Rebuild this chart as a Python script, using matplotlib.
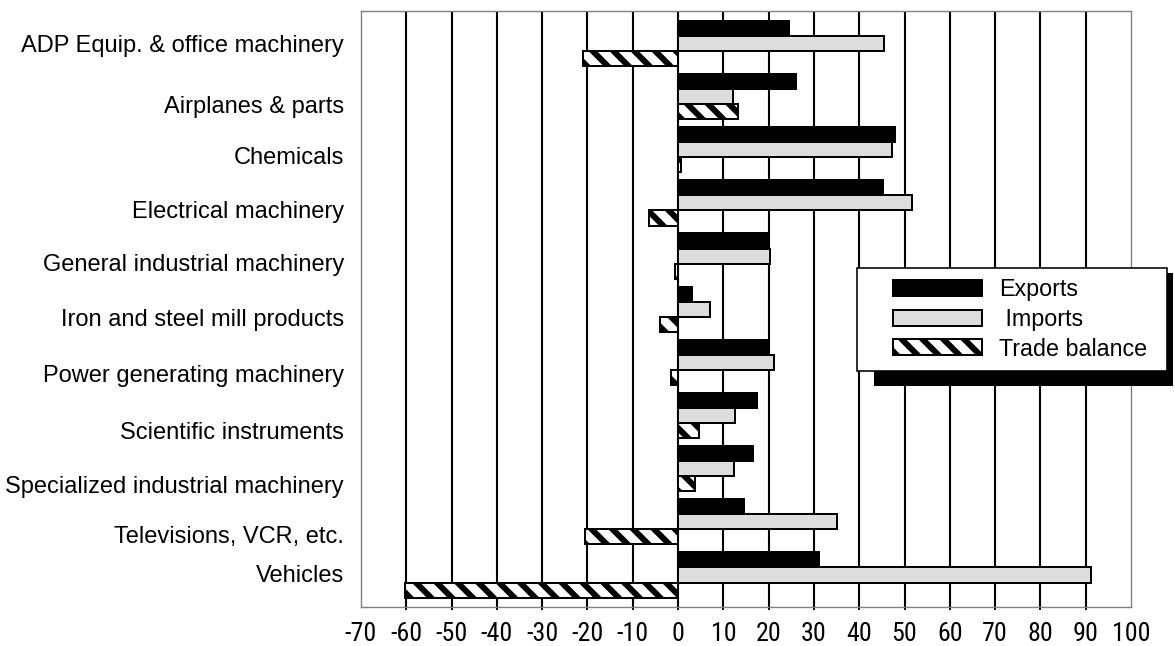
import matplotlib
matplotlib.use("Agg")
import matplotlib.pyplot as plt
import matplotlib.transforms as mtransforms
from matplotlib import font_manager
from matplotlib.patches import Rectangle
from matplotlib.container import BarContainer
from matplotlib.legend_handler import HandlerPatch, update_from_first_child
import numpy as np

# ---------------- data ----------------
categories = [
    "ADP Equip. & office machinery",
    "Airplanes & parts",
    "Chemicals",
    "Electrical machinery",
    "General industrial machinery",
    "Iron and steel mill products",
    "Power generating machinery",
    "Scientific instruments",
    "Specialized industrial machinery",
    "Televisions, VCR, etc.",
    "Vehicles",
]
exports = [24.5, 26.0, 47.9, 45.3, 20.0, 3.1, 19.9, 17.5, 16.6, 14.6, 31.1]
imports = [45.4, 12.2, 47.2, 51.7, 20.2, 7.1, 21.1, 12.5, 12.3, 35.1, 91.1]
balance = [-20.9, 13.2, 0.6, -6.5, -0.6, -3.9, -1.6, 4.6, 3.7, -20.5, -60.2]
series_labels = ["Exports", " Imports", "Trade balance"]
x_ticks = list(range(-70, 101, 10))

# ---------------- style ----------------
W, H = 1175, 646
DPI = 125  # chosen so the hatch tile gives ~21 px stripe spacing


def pt(px):
    """pixels -> points at the working dpi"""
    return px * 72.0 / DPI


def pick_font(names):
    for nm in names:
        try:
            font_manager.findfont(nm, fallback_to_default=False)
            return nm
        except Exception:
            continue
    return "DejaVu Sans"


plt.rcParams["hatch.linewidth"] = pt(6.0)
LABEL_FONT = "Liberation Sans"
TICK_FONT = pick_font(["Liberation Sans Narrow", "Roboto Condensed", "Liberation Sans"])
tick_px = 26.0 if TICK_FONT != "Liberation Sans" else 24.0

fig = plt.figure(figsize=(W / DPI, H / DPI), dpi=DPI)
ax_left, ax_right, ax_top, ax_bottom = 361, 1131, 11, 606.5
ax = fig.add_axes([ax_left / W, 1 - ax_bottom / H,
                   (ax_right - ax_left) / W, (ax_bottom - ax_top) / H])

n = len(categories)
y = np.arange(n)
bh = 0.284

lw_bar = pt(2.0)
b_exp = ax.barh(y - bh, exports, height=bh, color="black",
                edgecolor="black", linewidth=lw_bar, zorder=3, label=series_labels[0])
b_imp = ax.barh(y, imports, height=bh, color="#dddddd",
                edgecolor="black", linewidth=lw_bar, zorder=3, label=series_labels[1])
b_bal = ax.barh(y + bh, balance, height=bh, color="white", hatch="\\\\",
                edgecolor="black", linewidth=lw_bar, zorder=3, label=series_labels[2])

ax.set_xlim(-70, 100)
ax.set_ylim(10.593, -0.6115)

# x ticks / grid
ax.set_xticks(x_ticks)
ax.set_xticklabels([("-" + str(-v)) if v < 0 else str(v) for v in x_ticks],
                   fontfamily=TICK_FONT, fontsize=pt(tick_px))
ax.tick_params(axis="x", direction="out", length=pt(2.5), width=pt(2.0),
               color="black", pad=pt(13), labelcolor="black")
ax.grid(axis="x", color="black", linewidth=pt(2.1), zorder=0)
ax.set_axisbelow(True)
glines = ax.get_xgridlines()
glines[0].set_visible(False)
glines[-1].set_visible(False)
tlines = ax.xaxis.get_ticklines()
for t in list(tlines[:2]) + list(tlines[-2:]):
    t.set_visible(False)

# y tick labels (category names)
ax.set_yticks(y)
ax.set_yticklabels(categories, fontfamily=LABEL_FONT, fontsize=pt(23.6))
ax.tick_params(axis="y", length=0, pad=pt(17))
label_offsets_px = [2.5, 10, 8, 9, 9, 11, 14, 17, 18, 15, 1]
for lab, off in zip(ax.get_yticklabels(), label_offsets_px):
    lab.set_verticalalignment("center")
    lab.set_transform(lab.get_transform() +
                      mtransforms.ScaledTranslation(0, -off / DPI, fig.dpi_scale_trans))

for s in ax.spines.values():
    s.set_color("#808080")
    s.set_linewidth(pt(1.4))

# legend
patch_w_pt = pt(89)
patch_h_pt = pt(16)


def make_patch(legend, orig_handle, xdescent, ydescent, width, height, fontsize):
    return Rectangle((-xdescent + width - patch_w_pt, -ydescent + (height - patch_h_pt) / 2),
                     patch_w_pt, patch_h_pt)


hmap = {BarContainer: HandlerPatch(patch_func=make_patch,
                                   update_func=update_from_first_child)}
leg_x0, leg_x1, leg_y0, leg_y1 = 857, 1167, 268, 370
aw, ah = ax_right - ax_left, ax_bottom - ax_top
bbox = ((leg_x0 - ax_left) / aw, (ax_bottom - leg_y1) / ah,
        (leg_x1 - leg_x0) / aw, (leg_y1 - leg_y0) / ah)
fs_px = 23.3
fs_leg = pt(fs_px)
bpad = 0.45
leg = ax.legend(handles=[b_exp, b_imp, b_bal], labels=series_labels,
                loc="upper left", bbox_to_anchor=bbox, mode="expand",
                borderaxespad=0, borderpad=bpad, labelspacing=0.28,
                handlelength=(36 - bpad * fs_px + 89) / fs_px, handleheight=0.7,
                handletextpad=17 / fs_px, fancybox=False, framealpha=1,
                edgecolor="black", handler_map=hmap,
                prop={"family": LABEL_FONT, "size": fs_leg})
leg.get_frame().set_linewidth(pt(1.6))
leg.set_zorder(6)

fig.canvas.draw()
bb = leg.get_window_extent()
# shadow (display coords: y up)
shadow = Rectangle((bb.x0 + 17, bb.y0 - 15), bb.width - 11, bb.height + 10,
                   transform=mtransforms.IdentityTransform(), facecolor="black",
                   edgecolor="none", zorder=5.5, clip_on=False)
ax.add_artist(shadow)

fig.savefig("out.png", dpi=DPI)
